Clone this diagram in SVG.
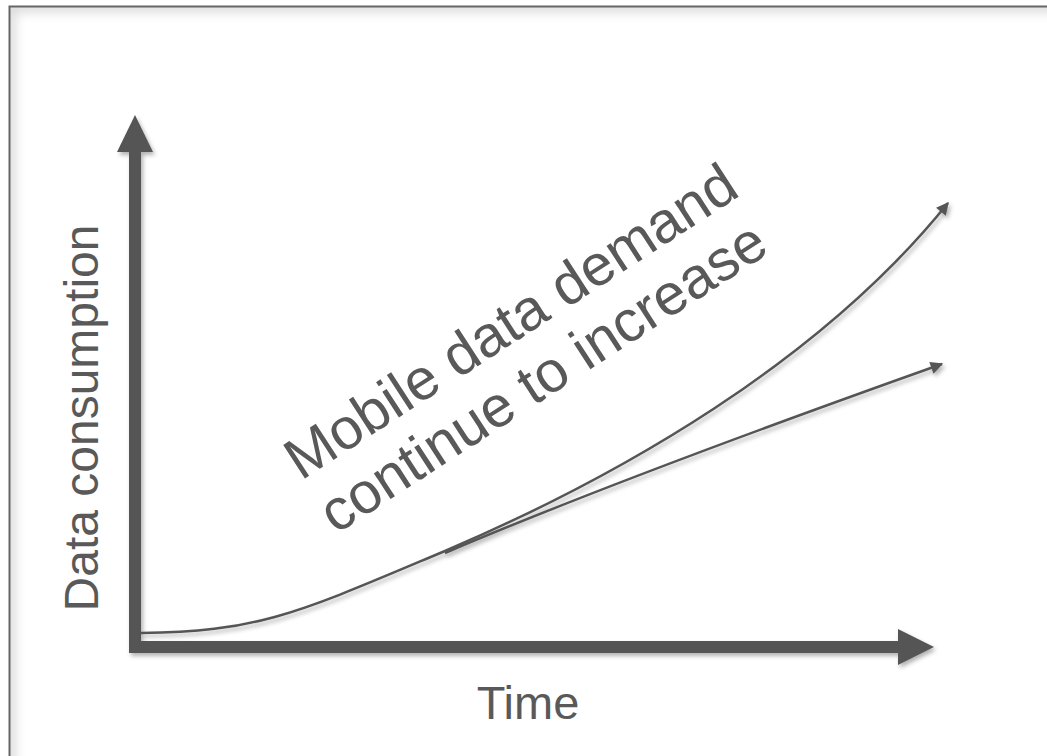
<svg xmlns="http://www.w3.org/2000/svg" width="1047" height="756" viewBox="0 0 1047 756">
  <style>
    .lbl { font-family: "Liberation Sans", Arial, sans-serif; fill: #595959; }
    .axis { fill: #555555; }
    .curve { fill: none; stroke: #555555; stroke-width: 2.5; }
  </style>
  <defs>
    <filter id="shadow" x="-10%" y="-10%" width="120%" height="120%">
      <feDropShadow dx="2" dy="3" stdDeviation="2" flood-color="#000" flood-opacity="0.3"/>
    </filter>
    <filter id="blur" x="-5%" y="-5%" width="110%" height="110%">
      <feGaussianBlur stdDeviation="6"/>
    </filter>
    <clipPath id="inside">
      <rect x="10" y="7" width="1100" height="800"/>
    </clipPath>
    <marker id="ah" viewBox="0 0 10 10" refX="9" refY="5" markerWidth="6" markerHeight="5" orient="auto" markerUnits="strokeWidth">
      <path d="M0,0 L10,5 L0,10 Z" fill="#555555"/>
    </marker>
  </defs>
  <rect x="0" y="0" width="1047" height="756" fill="#ffffff"/>
  <g id="frame">
    <rect x="9.5" y="6.5" width="1100" height="800" fill="none" stroke="#d4d4d4" stroke-width="10" filter="url(#blur)" clip-path="url(#inside)"/>
    <rect x="9.5" y="6.5" width="1100" height="800" fill="none" stroke="#666666" stroke-width="2"/>
  </g>
  <g id="axes" filter="url(#shadow)">
    <g id="y-axis">
      <rect class="axis" x="129" y="150" width="12" height="503"/>
      <polygon class="axis" points="135,115 117,152 153,152"/>
    </g>
    <g id="x-axis">
      <rect class="axis" x="129" y="641" width="771" height="12"/>
      <polygon class="axis" points="934,647 898,629 898,665"/>
    </g>
  </g>
  <g id="connectors" filter="url(#shadow)">
    <path id="curve-demand" class="curve" d="M141,633 C260,632 300,612 445,551 C620,476 820,362 948,203" marker-end="url(#ah)"/>
    <path id="curve-linear" class="curve" d="M445,553 C560,504 700,450 942,364" marker-end="url(#ah)"/>
  </g>
  <g id="labels">
    <text class="lbl" x="98" y="418" font-size="48" text-anchor="middle" transform="rotate(-90 98 418)">Data consumption</text>
    <text class="lbl" x="528" y="719" font-size="47" text-anchor="middle">Time</text>
    <g id="headline" transform="translate(301,481) rotate(-33)">
      <text class="lbl" x="0" y="0" font-size="58">Mobile data demand</text>
      <text class="lbl" x="0" y="64" font-size="58">continue to increase</text>
    </g>
  </g>
</svg>
